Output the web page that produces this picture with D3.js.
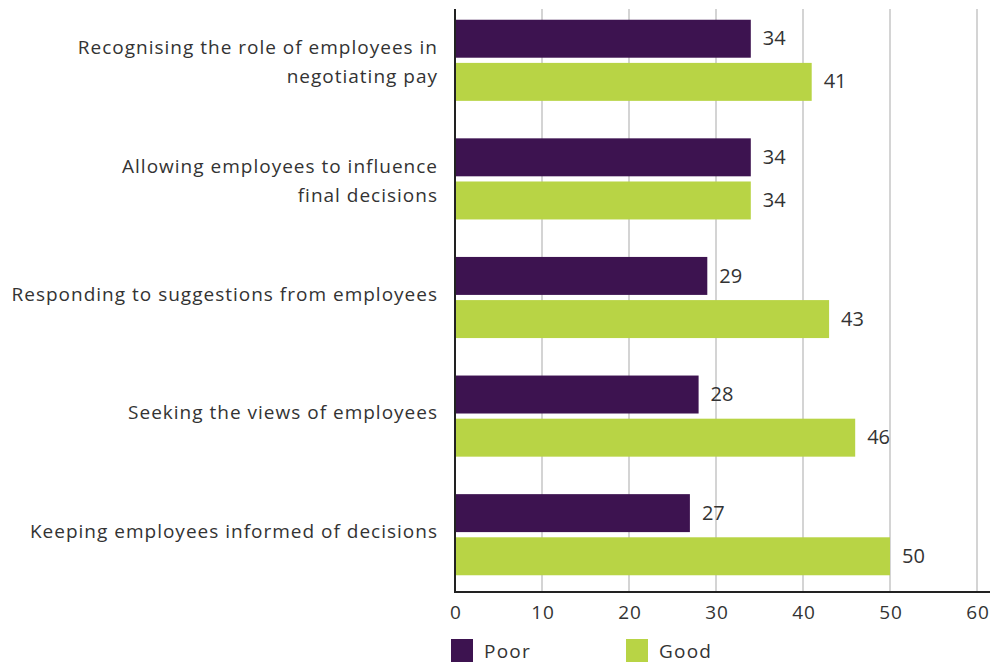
<!DOCTYPE html>
<html>
<head>
<meta charset="utf-8">
<script src="https://cdn.jsdelivr.net/npm/d3@7/dist/d3.min.js"></script>
<style>
  html, body { margin: 0; padding: 0; background: #ffffff; }
  svg { display: block; font-family: "Open Sans", Lato, sans-serif; }
</style>
</head>
<body>
<svg id="chart" width="990" height="666"></svg>
<script>
// Survey results: share rating each practice as poor or good
const categories = [
  ["Recognising the role of employees in", "negotiating pay"],
  ["Allowing employees to influence", "final decisions"],
  ["Responding to suggestions from employees"],
  ["Seeking the views of employees"],
  ["Keeping employees informed of decisions"]
];
const poorValues = [34, 34, 29, 28, 27];
const goodValues = [41, 34, 43, 46, 50];
const seriesNames = ["Poor", "Good"];
const seriesColors = ["#3d1350", "#b8d445"];
const xTicks = [0, 10, 20, 30, 40, 50, 60];

const svg = d3.select("#chart");
const plotLeft = 455, plotRight = 977, plotTop = 9, plotBottom = 592;
const textColor = "#333333";

const x = d3.scaleLinear().domain([0, 60]).range([plotLeft, plotRight]);
const y = d3.scaleBand().domain(d3.range(categories.length)).range([1, 594]).paddingInner(0.316).paddingOuter(0.158);
const inner = d3.scaleBand().domain([0, 1]).range([0, y.bandwidth()]).paddingInner(0.12);

// vertical gridlines
svg.append("g").selectAll("line").data(xTicks.slice(1)).join("line")
  .attr("x1", d => x(d)).attr("x2", d => x(d))
  .attr("y1", plotTop).attr("y2", plotBottom)
  .attr("stroke", "#d4d4d4").attr("stroke-width", 2);

// bars and value labels
const series = [poorValues, goodValues];
series.forEach((vals, s) => {
  const g = svg.append("g");
  g.selectAll("rect").data(vals).join("rect")
    .attr("x", x(0))
    .attr("y", (d, i) => y(i) + inner(s))
    .attr("width", d => x(d) - x(0))
    .attr("height", inner.bandwidth())
    .attr("fill", seriesColors[s]);
  g.selectAll("text").data(vals).join("text")
    .attr("x", d => x(d) + 12)
    .attr("y", (d, i) => y(i) + inner(s) + inner.bandwidth() / 2)
    .attr("dy", "0.33em")
    .attr("font-size", 20)
    .attr("fill", textColor)
    .text(d => d);
});

// axis lines
svg.append("line").attr("x1", plotLeft).attr("x2", plotLeft).attr("y1", plotTop).attr("y2", plotBottom + 1)
  .attr("stroke", "#222").attr("stroke-width", 2);
svg.append("line").attr("x1", plotLeft - 1).attr("x2", 990).attr("y1", plotBottom).attr("y2", plotBottom)
  .attr("stroke", "#222").attr("stroke-width", 2);

// x tick labels
const xAxis = d3.axisBottom(x).tickValues(xTicks).tickSize(0).tickPadding(0);
const ax = svg.append("g").attr("transform", `translate(0,${plotBottom})`).call(xAxis);
ax.select(".domain").remove();
ax.selectAll("text").attr("font-size", 19).attr("fill", textColor)
  .attr("font-family", "Open Sans, Lato, sans-serif")
  .attr("letter-spacing", "1px").attr("dx", "0.5px")
  .attr("y", 27).attr("dy", 0);

// category labels, right-aligned against the axis
const lineH = 29;
categories.forEach((lines, i) => {
  const cy = y(i) + y.bandwidth() / 2;
  const t = svg.append("text").attr("text-anchor", "end").attr("font-size", 19)
    .attr("letter-spacing", "1px").attr("fill", textColor);
  lines.forEach((ln, j) => {
    const base = lines.length === 1 ? cy + 3 : cy - 6 + j * lineH;
    t.append("tspan").attr("x", 438).attr("y", base).text(ln);
  });
});

// legend
const legendX = [451, 626];
seriesNames.forEach((name, s) => {
  svg.append("rect").attr("x", legendX[s]).attr("y", 639).attr("width", 22).attr("height", 23)
    .attr("fill", seriesColors[s]);
  svg.append("text").attr("x", legendX[s] + 33).attr("y", 658)
    .attr("font-size", 19).attr("letter-spacing", "1.2px").attr("fill", textColor).text(name);
});
</script>
</body>
</html>
